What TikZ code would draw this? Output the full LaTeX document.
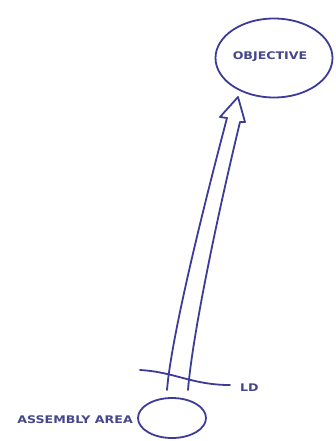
\documentclass[tikz,border=0pt]{standalone}
\usepackage{fontspec}
\setmainfont{DejaVu Sans}
\newfontfamily\skfont[FakeStretch=1.2]{DejaVu Sans}
\usetikzlibrary{shapes.geometric}
\begin{document}
\begin{tikzpicture}[x=1pt,y=-1pt,
  ink/.style={draw=inkc,line width=1.8pt,line cap=round,line join=round},
  lbl/.style={text=txtc,font=\skfont\bfseries\fontsize{10.5}{12}\selectfont,inner sep=0pt}]
\definecolor{inkc}{HTML}{3C3C98}
\definecolor{txtc}{HTML}{46468A}
\useasboundingbox (0,0) rectangle (336,441);
% objective
\node[ink,ellipse,minimum width=117pt,minimum height=79pt,draw,inner sep=0pt] (obj) at (274,58) {};
\node[lbl] (objt) at (270,57) {OBJECTIVE};
% assembly area
\node[ink,ellipse,minimum width=68pt,minimum height=40pt,draw,inner sep=0pt] (aa) at (172,418) {};
\node[lbl,anchor=east] (aat) at (133,420) {ASSEMBLY AREA};
% arrow
\coordinate (tip) at (238,97);
\coordinate (lw) at (220,117);
\coordinate (rw) at (245,122);
\coordinate (li) at (227,118);
\coordinate (ri) at (240,122);
\coordinate (lb) at (167,390);
\coordinate (rb) at (188,390);
\draw[ink] (lb) .. controls (171,340) and (200,220) .. (li) -- (lw) -- (tip) -- (rw) -- (ri) .. controls (214,230) and (192,340) .. (rb);
% LD line
\coordinate (ld0) at (140,370);
\coordinate (ld1) at (230,385);
\draw[ink] (ld0) .. controls (175,372) and (192,385) .. (ld1);
\node[lbl,anchor=west] (ldt) at (240,388) {LD};
\end{tikzpicture}
\end{document}
